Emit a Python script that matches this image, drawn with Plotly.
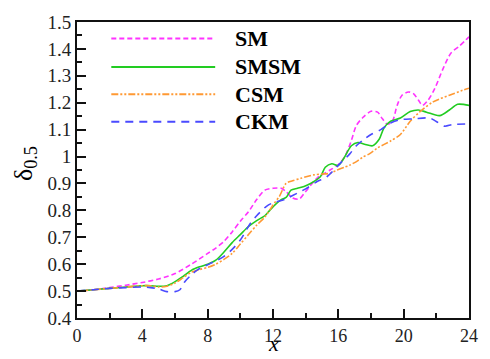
import plotly.graph_objects as go

# ---------------- data ----------------
sm_x = [0, 1, 2, 3, 4, 5, 6, 7, 8, 8.5, 9, 9.5, 10, 10.5, 11, 11.5, 12, 12.5, 12.8, 13.2, 13.6,
        14, 14.7, 15.5, 16, 16.4, 16.8, 17.1, 17.5, 18, 18.4, 18.7, 19, 19.3, 19.6, 19.9, 20.3,
        20.6, 20.9, 21.15, 21.5, 21.9, 22.4, 22.9, 23.4, 23.8, 24]
sm_y = [0.5, 0.505, 0.513, 0.522, 0.532, 0.545, 0.565, 0.6, 0.64, 0.66, 0.685, 0.72, 0.76, 0.795,
        0.84, 0.875, 0.882, 0.882, 0.87, 0.846, 0.842, 0.87, 0.92, 0.95, 0.97, 1.0, 1.06, 1.115,
        1.145, 1.168, 1.165, 1.14, 1.12, 1.13, 1.19, 1.228, 1.24, 1.234, 1.21, 1.19, 1.21, 1.252,
        1.325, 1.385, 1.41, 1.433, 1.445]

smsm_x = [0, 1, 2, 3, 4, 4.5, 5, 5.5, 6, 6.5, 7, 7.5, 8, 8.5, 9, 9.5, 10, 10.5, 11, 11.5, 11.8,
          12.2, 12.5, 12.8, 13.1, 13.5, 13.9, 14.3, 14.9, 15.2, 15.6, 16.0, 16.3, 16.8, 17.2, 17.6,
          18.1, 18.5, 18.8, 19.2, 19.8, 20.4, 20.9, 21.4, 22.2, 22.8, 23.3, 24]
smsm_y = [0.5, 0.505, 0.51, 0.515, 0.52, 0.52, 0.518, 0.52, 0.535, 0.555, 0.577, 0.59, 0.6, 0.615,
          0.645, 0.68, 0.71, 0.74, 0.762, 0.78, 0.8, 0.825, 0.84, 0.848, 0.875, 0.882, 0.889, 0.9,
          0.925, 0.96, 0.973, 0.967, 0.99, 1.04, 1.052, 1.046, 1.04, 1.064, 1.107, 1.131, 1.143,
          1.167, 1.173, 1.165, 1.152, 1.173, 1.194, 1.19]

csm_x = [0, 1, 2, 3, 4, 4.5, 5, 5.5, 6, 6.5, 7, 7.5, 8, 8.5, 9, 9.5, 10, 10.5, 11, 11.5, 12, 12.4,
         12.8, 13.2, 13.7, 14.5, 15, 15.5, 15.9, 16.4, 16.7, 17.2, 17.5, 17.9, 18.4, 19.2, 19.8,
         20.4, 21, 21.8, 22.8, 23.6, 24]
csm_y = [0.5, 0.505, 0.51, 0.515, 0.52, 0.52, 0.515, 0.518, 0.53, 0.55, 0.57, 0.58, 0.588, 0.6,
         0.618, 0.64, 0.675, 0.71, 0.745, 0.775, 0.82, 0.853, 0.9, 0.91, 0.919, 0.932, 0.935, 0.938,
         0.949, 0.961, 0.968, 0.985, 0.998, 1.01, 1.032, 1.058, 1.082, 1.131, 1.167, 1.203, 1.228,
         1.246, 1.254]

ckm_x = [0, 1, 2, 3, 4, 4.5, 5, 5.5, 6, 6.3, 6.6, 7, 7.4, 7.8, 8.2, 8.6, 9, 9.5, 10, 10.6, 11,
         11.6, 12, 12.7, 13.2, 14, 14.7, 15.3, 16.2, 16.7, 17.1, 17.5, 18, 18.6, 19.2, 19.8, 20.6,
         21.6, 22, 22.5, 23, 24]
ckm_y = [0.5, 0.505, 0.51, 0.513, 0.515, 0.513, 0.508, 0.498, 0.498, 0.505, 0.535, 0.56, 0.58,
         0.592, 0.604, 0.615, 0.629, 0.655, 0.69, 0.75, 0.78, 0.815, 0.828, 0.84, 0.855, 0.88,
         0.907, 0.925, 0.98, 1.01, 1.04, 1.06, 1.082, 1.1, 1.125, 1.137, 1.14, 1.143, 1.13, 1.113,
         1.119, 1.121]

series_names = ["SM", "SMSM", "CSM", "CKM"]
x_ticks = [0, 4, 8, 12, 16, 20, 24]
y_ticks = [0.4, 0.5, 0.6, 0.7, 0.8, 0.9, 1.0, 1.1, 1.2, 1.3, 1.4, 1.5]
y_tick_labels = ["0.4", "0.5", "0.6", "0.7", "0.8", "0.9", "1", "1.1", "1.2", "1.3", "1.4", "1.5"]

# ---------------- styles ----------------
colors = ["#ff33ff", "#22cc22", "#ff9933", "#4a4aff"]
dashes = ["5px,3px", "solid", "7px,2px,2px,2px,2px,2px", "8px,6px"]
FONT = "Liberation Serif"

fig = go.Figure()
data = [(sm_x, sm_y), (smsm_x, smsm_y), (csm_x, csm_y), (ckm_x, ckm_y)]
for (xs, ys), name, c, d in zip(data, series_names, colors, dashes):
    fig.add_trace(go.Scatter(x=xs, y=ys, mode="lines", name=name,
                             line=dict(color=c, width=1.6, dash=d, shape="spline", smoothing=0.8),
                             showlegend=False))

# manual legend (long sample lines + bold text)
shapes = []
annotations = []
leg_y = [32, 61, 89, 117]  # pixel rows
H = 359
top, bottom = 15, 41
ph = H - top - bottom
for i, (name, c, d) in enumerate(zip(series_names, colors, dashes)):
    yp = 1 - (leg_y[i] - top) / ph
    shapes.append(dict(type="line", xref="paper", yref="paper",
                       x0=(112 - 77) / 400, x1=(218 - 77) / 400, y0=yp, y1=yp,
                       line=dict(color=c, width=2, dash=d)))
    annotations.append(dict(xref="paper", yref="paper", x=(236 - 77) / 400, y=yp,
                            xanchor="left", yanchor="middle", showarrow=False,
                            text="<b>%s</b>" % name,
                            font=dict(family=FONT, size=22, color="black")))

annotations.append(dict(xref="paper", yref="paper", x=0, y=0.52, xshift=-52,
                        xanchor="center", yanchor="middle", showarrow=False, textangle=-90,
                        text="δ<sub>0.5</sub>",
                        font=dict(family=FONT, size=26, color="black")))
annotations.append(dict(xref="paper", yref="paper", x=0.5, y=0, yshift=-40,
                        xanchor="center", yanchor="bottom", showarrow=False,
                        text="<i>x</i>",
                        font=dict(family=FONT, size=22, color="black")))

fig.update_layout(
    width=490, height=359,
    margin=dict(l=77, r=13, t=top, b=bottom),
    plot_bgcolor="white", paper_bgcolor="white",
    shapes=shapes, annotations=annotations,
    showlegend=False,
    font=dict(family=FONT, size=18, color="#222"),
)
fig.update_xaxes(range=[0, 24], tickvals=x_ticks, ticktext=[str(v) for v in x_ticks],
                 ticks="inside", ticklen=9, tickwidth=2, tickcolor="#111",
                 minor=dict(ticks="inside", ticklen=5, tickwidth=2, tickcolor="#111", dtick=2, tick0=0,
                            showgrid=False),
                 showline=True, linecolor="#111", linewidth=2, mirror=True,
                 showgrid=False, zeroline=False,
                 tickfont=dict(family=FONT, size=18, color="#222"))
fig.update_yaxes(range=[0.4, 1.5], tickvals=y_ticks, ticktext=y_tick_labels,
                 ticks="inside", ticklen=9, tickwidth=2, tickcolor="#111",
                 minor=dict(ticks="inside", ticklen=5, tickwidth=2, tickcolor="#111", dtick=0.05, tick0=0.4,
                            showgrid=False),
                 showline=True, linecolor="#111", linewidth=2, mirror=True,
                 showgrid=False, zeroline=False,
                 tickfont=dict(family=FONT, size=19, color="#222"))

fig.write_html("out.html")
